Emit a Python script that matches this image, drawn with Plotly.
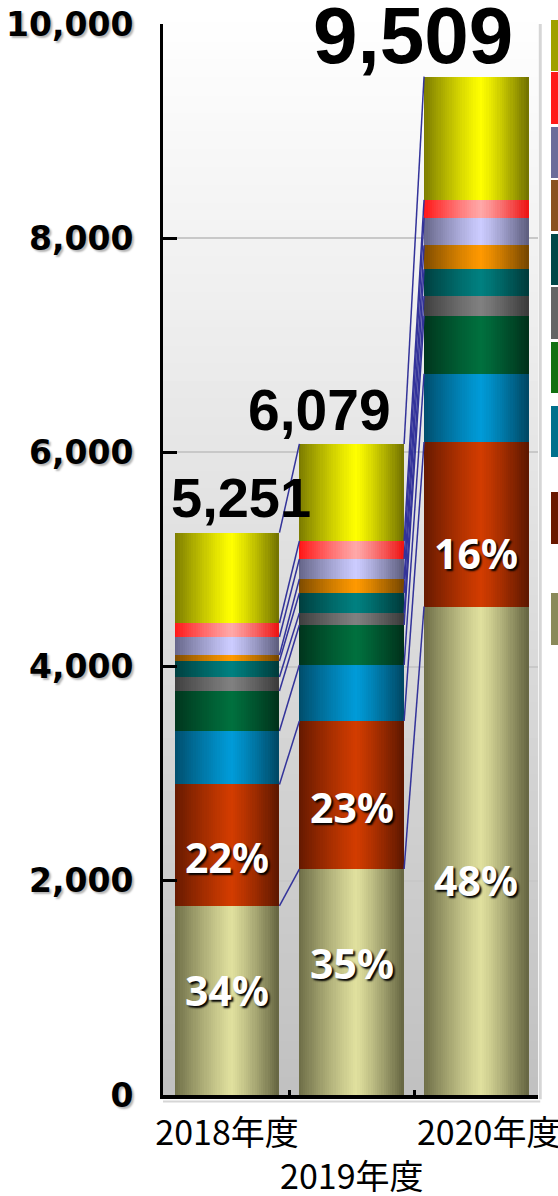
import math
import plotly.graph_objects as go

# ---------------- data ----------------
years = ["2018年度", "2019年度", "2020年度"]
tick_text = ["2018年度", "<br>2019年度", "\u2002\u00a02020年度"]
totals = [5251, 6079, 9509]

series_names = ["系列1", "系列2", "系列3", "系列4", "系列5",
                "系列6", "系列7", "系列8", "系列9", "系列10"]
olive = [1765, 2110, 4561]
red_orange = [1135, 1382, 1536]
blue = [499, 523, 638]
green = [373, 373, 541]
gray = [131, 112, 185]
teal = [149, 187, 248]
orange = [56, 131, 224]
lavender = [168, 187, 259]
pink = [131, 168, 166]
yellow = [844, 906, 1151]

y_ticks = [0, 2000, 4000, 6000, 8000, 10000]

# ---------------- styles ----------------
series_values = [olive, red_orange, blue, green, gray, teal, orange, lavender, pink, yellow]
center_cols = [(224, 224, 158), (210, 60, 0), (0, 155, 216), (0, 112, 62), (128, 128, 128),
               (0, 128, 128), (255, 153, 0), (204, 204, 255), (255, 168, 168), (255, 255, 0)]
edge_cols = [(108, 108, 70), (100, 25, 0), (0, 76, 106), (0, 52, 28), (62, 62, 62),
             (0, 62, 62), (125, 75, 0), (100, 100, 135), (255, 20, 20), (122, 122, 0)]
legend_cols = ["#8a8a5a", "#6a1800", "#00708c", "#127012", "#646464",
               "#004848", "#8a5020", "#6c6c9a", "#ff1a1a", "#a0a000"]
# legend swatch rows (pixel top/bottom), listed from the top of the legend
legend_rows = [(20, 71), (72, 124), (127, 178), (180, 231), (234, 285),
               (287, 339), (342, 393), (406, 457), (492, 544), (593, 645)]

W = 0.84          # bar width (axis units)
N = 48            # gradient strips per bar
PLOT_L, PLOT_R, PLOT_T, PLOT_B = 163, 538, 24, 1095
FIG_W, FIG_H = 558, 1196


def shade(c, e, t):
    d = (t - 0.55) / 0.55 if t < 0.55 else (t - 0.55) / 0.45
    m = 1 - abs(d) ** 1.15
    k = 1.0 if t < 0.55 else 0.93
    rgb = [int(round((e[j] * k) + (c[j] - e[j] * k) * m)) for j in range(3)]
    return "rgb(%d,%d,%d)" % tuple(max(0, min(255, v)) for v in rgb)


fig = go.Figure()

# gradient strips per bar
strip_x, strip_w, strip_t = [], [], []
for i in range(len(years)):
    for k in range(N):
        t = (k + 0.5) / N
        w = W / N * 1.8
        lo = max(i - W / 2, i - W / 2 + t * W - w / 2)
        hi = min(i + W / 2, i - W / 2 + t * W + w / 2)
        strip_x.append((lo + hi) / 2)
        strip_w.append(hi - lo)
        strip_t.append(t)

for s, vals in enumerate(series_values):
    ys, cols = [], []
    for i in range(len(years)):
        for k in range(N):
            ys.append(vals[i])
            cols.append(shade(center_cols[s], edge_cols[s], strip_t[i * N + k]))
    fig.add_trace(go.Bar(
        x=strip_x, y=ys, width=strip_w,
        marker=dict(color=cols, line=dict(width=0)),
        name=series_names[s], showlegend=False, hoverinfo="skip"))

# series lines between bars
cum = [0, 0, 0]
for s, vals in enumerate(series_values):
    cum = [cum[i] + vals[i] for i in range(3)]
    lx, ly = [], []
    for i in range(len(years) - 1):
        lx += [i + W / 2, i + 1 - W / 2, None]
        ly += [cum[i], cum[i + 1], None]
    fig.add_trace(go.Scatter(x=lx, y=ly, mode="lines",
                             line=dict(color="#33339a", width=1.5),
                             showlegend=False, hoverinfo="skip"))

annotations = []
# totals
total_sizes = [56, 57, 80]
total_xshift = [14, -32, -63]
total_yshift = [2, 0, -5]
for i, tot in enumerate(totals):
    annotations.append(dict(
        x=i, y=tot, xref="x", yref="y", text=f"{tot:,}", showarrow=False,
        xanchor="center", yanchor="bottom", xshift=total_xshift[i], yshift=total_yshift[i],
        font=dict(family="Liberation Sans", size=total_sizes[i], color="black", weight="bold")))

# percentage labels (bottom two series)
pct_shift = {(0, 0): 10, (1, 0): -12, (0, 1): 19, (1, 1): -12, (0, 2): -29, (1, 2): -29}
for i in range(len(years)):
    base = 0
    for s in (0, 1):
        v = series_values[s][i]
        pct = round(v / totals[i] * 100)
        annotations.append(dict(
            x=i, y=base + v / 2, xref="x", yref="y", text=f"{pct}%", showarrow=False,
            xanchor="center", yanchor="middle", yshift=pct_shift[(s, i)],
            font=dict(family="Noto Sans", size=41, color="white", weight="bold",
                      shadow="2px 2px 2px #000000")))
        base += v

shapes = []
# plot-area vertical gradient background
NB = 60
for b in range(NB):
    g = int(round(192 + (255 - 192) * (b + 0.5) / NB))
    shapes.append(dict(type="rect", xref="paper", yref="paper",
                       x0=0, x1=1, y0=b / NB, y1=(b + 1) / NB + 0.002,
                       fillcolor="rgb(%d,%d,%d)" % (g, g, g), line=dict(width=0), layer="below"))
# back wall edge / floor
shapes.append(dict(type="line", xref="paper", yref="paper", x0=1.006, x1=1.006, y0=-0.004, y1=1,
                   line=dict(color="#d6d6d6", width=3)))
shapes.append(dict(type="line", xref="paper", yref="paper", x0=0.0, x1=1.006, y0=-0.006, y1=-0.006,
                   line=dict(color="#d6d6d6", width=2)))
# legend swatches (cropped at right edge)
plot_w = PLOT_R - PLOT_L
plot_h = PLOT_B - PLOT_T
for r, s in enumerate(reversed(range(len(series_values)))):
    top, bot = legend_rows[r]
    shapes.append(dict(type="rect", xref="paper", yref="paper",
                       x0=(551 - PLOT_L) / plot_w, x1=(575 - PLOT_L) / plot_w,
                       y0=(PLOT_B - bot) / plot_h, y1=(PLOT_B - top) / plot_h,
                       fillcolor=legend_cols[s], line=dict(width=0)))

x_left = -(227 - PLOT_L) / 124.5
x_right = 2 + (PLOT_R - 476.5) / 124.5

fig.update_layout(
    width=FIG_W, height=FIG_H,
    margin=dict(l=PLOT_L, r=FIG_W - PLOT_R, t=PLOT_T, b=FIG_H - PLOT_B, pad=0, autoexpand=False),
    barmode="stack",
    paper_bgcolor="white", plot_bgcolor="white",
    showlegend=False,
    annotations=annotations, shapes=shapes,
    xaxis=dict(range=[x_left, x_right], tickmode="array", tickvals=[0, 1, 2], ticktext=tick_text,
               ticks="", showgrid=False, zeroline=False, showline=True, linecolor="black",
               linewidth=4, ticklabelstandoff=5, tickangle=0, automargin=False,
               ticklabeloverflow="allow",
               tickfont=dict(family="Noto Sans CJK JP", size=34, color="black"),
               minor=dict(tickmode="array", tickvals=[0.5, 1.5], ticks="inside", ticklen=5,
                          tickwidth=3, tickcolor="black", showgrid=False)),
    yaxis=dict(range=[0, 10000], tickmode="array", tickvals=y_ticks, tickformat=",d",
               ticks="inside", ticklen=14, tickwidth=3, tickcolor="black", automargin=False,
               ticklabeloverflow="allow",
               showline=True, linecolor="black", linewidth=3, zeroline=False,
               showgrid=True, gridcolor="#c8c8c8", gridwidth=1.5, ticklabelstandoff=20,
               tickfont=dict(family="DejaVu Sans", size=33, color="black", weight="bold",
                             shadow="2px 2px 2px #b4b4b4")),
)

fig.write_html("out.html", config={"displayModeBar": False},
               post_script="document.body.style.margin='0';")
